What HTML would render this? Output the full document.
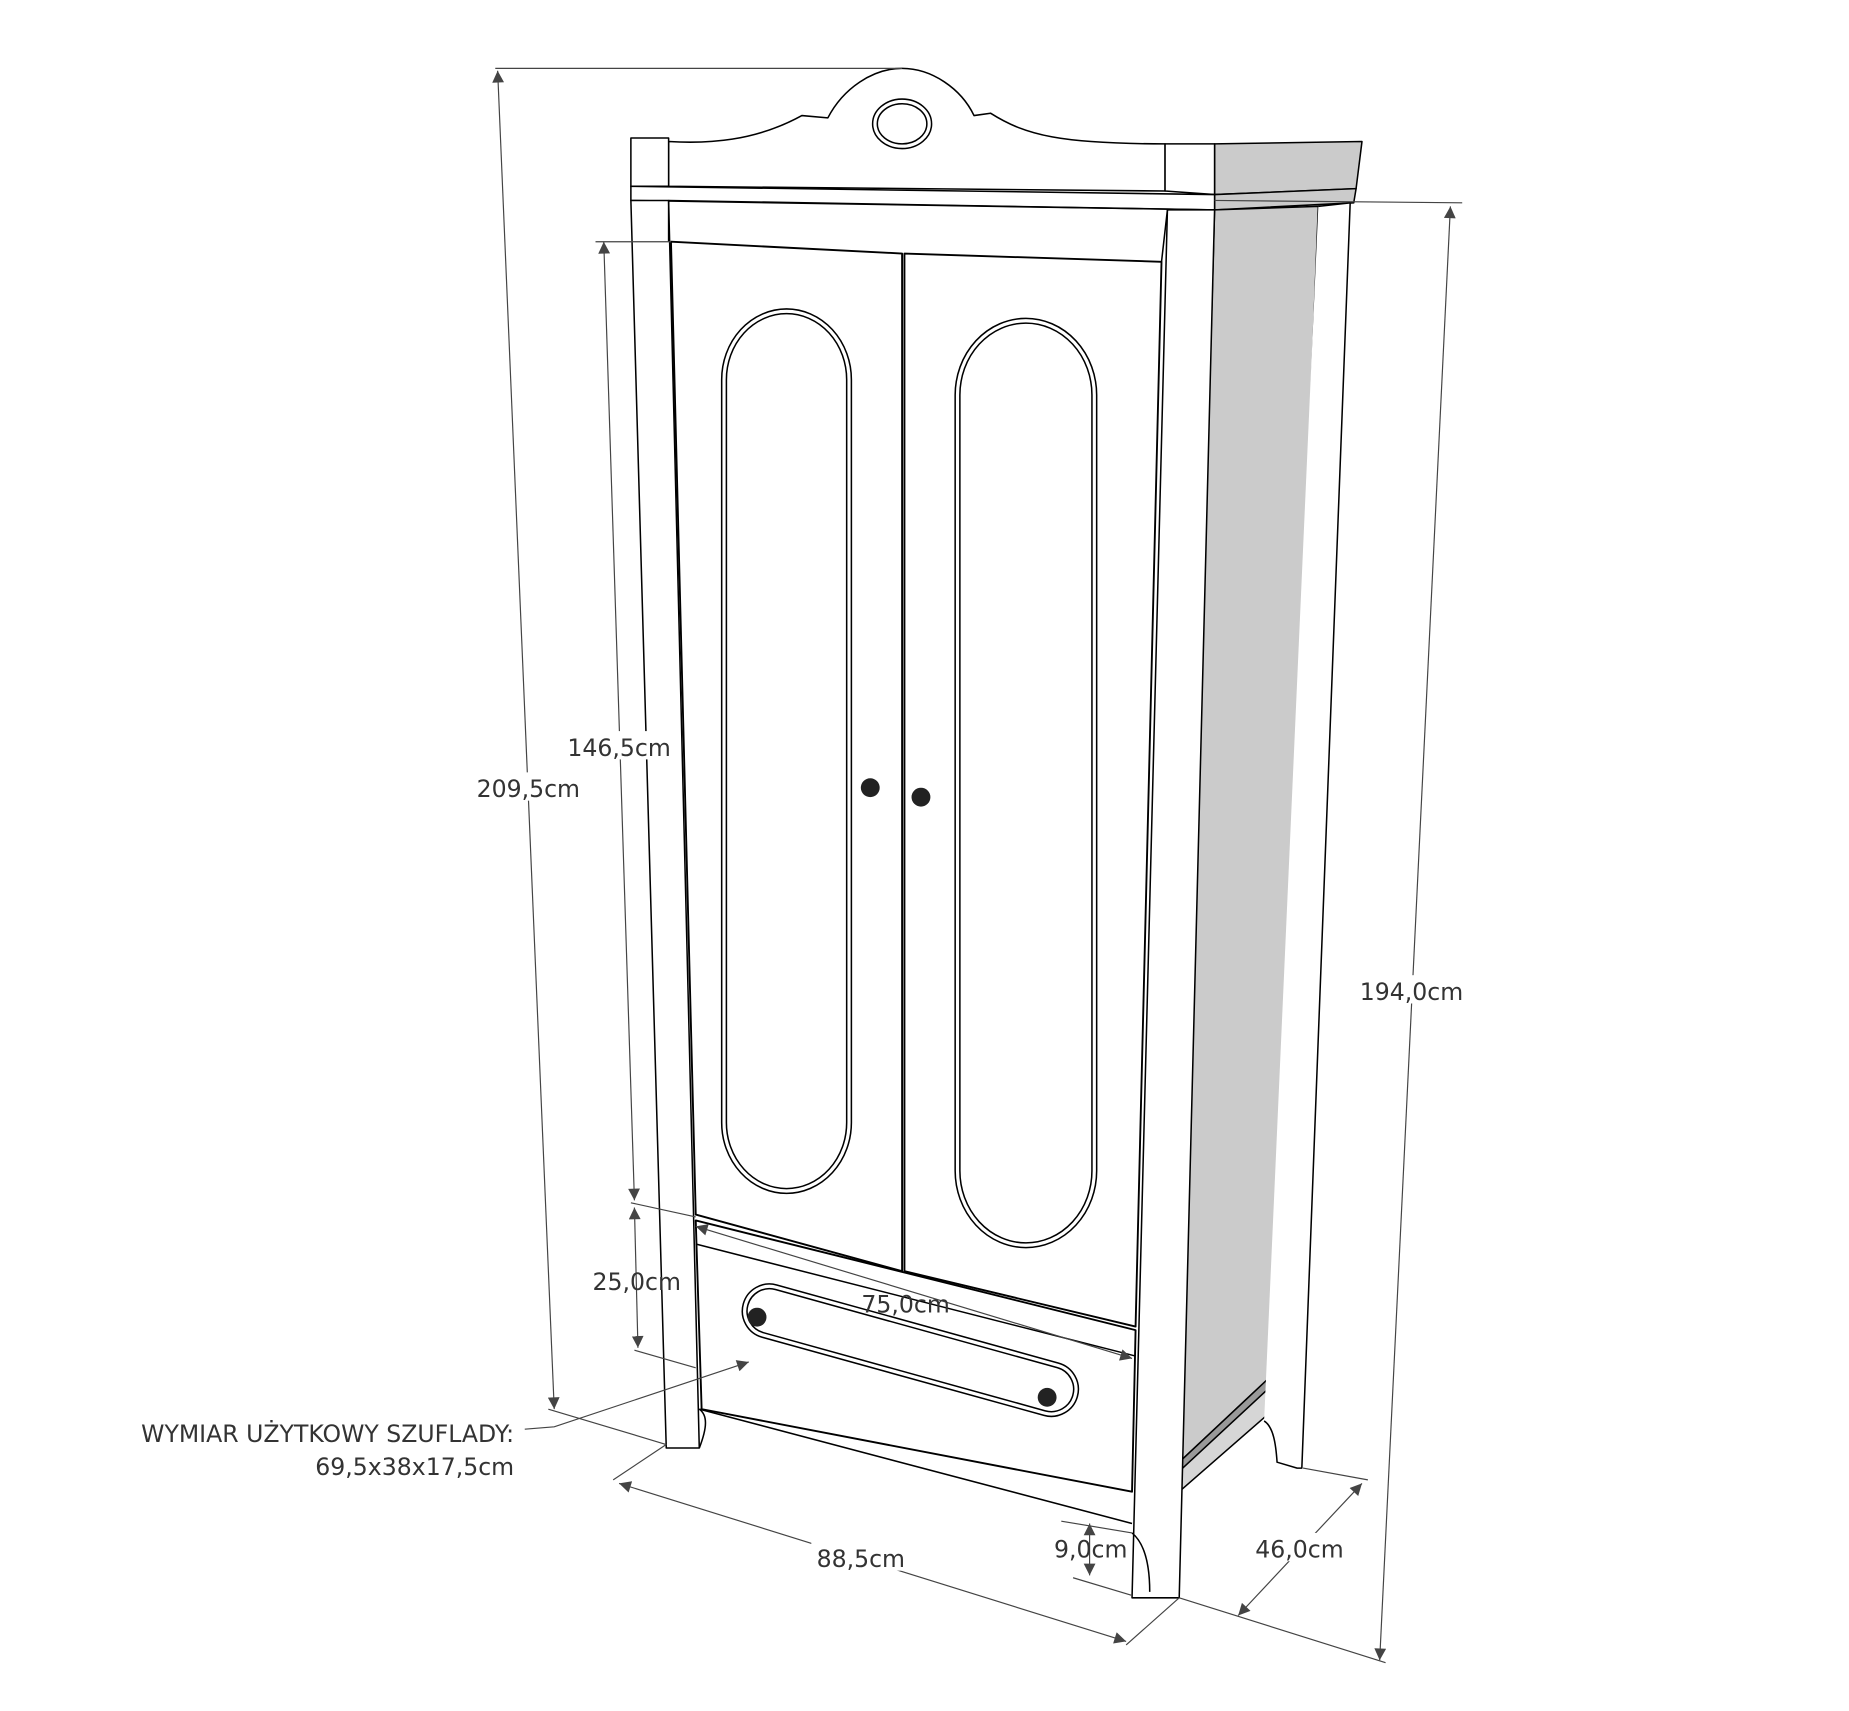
<!DOCTYPE html>
<html><head><meta charset="utf-8"><style>
html,body{margin:0;padding:0;background:#fff;}
svg{display:block;}
text{font-family:"DejaVu Sans","Liberation Sans",sans-serif;font-size:20px;fill:#333;}
</style></head><body>
<svg width="1849" height="1711" viewBox="0 0 1568 1451" xmlns="http://www.w3.org/2000/svg">
<defs>
<marker id="a" viewBox="0 0 10 10" refX="10" refY="5" markerWidth="14" markerHeight="10" markerUnits="userSpaceOnUse" orient="auto-start-reverse">
<path d="M0,0 L10,5 L0,10 z" fill="#444"/></marker>
</defs>
<g fill="none" stroke="#000" stroke-width="1.3" stroke-linejoin="round">
<polygon points="1030,122 1155,120 1150,160 1030,165" fill="#cbcbcb"/>
<polygon points="1030,165 1150,160 1148,172 1030,178" fill="#cbcbcb"/>
<polygon points="1030,178 1118,175 1080,1165 1000,1250" fill="#cbcbcb"/>
<polygon points="1000,1240 1080,1165 1086,1168 1086,1190 1000,1265" fill="#d6d6d6"/>
<polygon points="1000,1240 1080,1165 1086,1168 1003,1245" fill="#999"/>
<path d="M1118,175 L1145,172 L1104,1245 L1100,1245 L1083,1240 C1082,1225 1080,1210 1072,1205" fill="#fff"/>
<path d="M567,120 C600,122 640,120 680,98 L702,100 C715,75 740,58 765,58 C790,58 815,75 826,98 L840,96 C870,115 900,122 988,122 L988,162 L567,158 Z" fill="#fff"/>
<ellipse cx="765" cy="105" rx="25" ry="21"/>
<ellipse cx="765" cy="105" rx="21" ry="17"/>
<polygon points="535,117 567,117 567,158 535,158" fill="#fff"/>
<polygon points="988,122 1030,122 1030,165 988,162" fill="#fff"/>
<polygon points="535,158 1030,165 1030,178 535,170" fill="#fff"/>
<polygon points="535,170 567,170 593,1228 565,1228" fill="#fff"/>
<path d="M567,170 L1030,178" />
<polygon points="990,178 1030,178 1000,1355 960,1355" fill="#fff"/>
<path d="M567,170 L567,205 M990,178 L985,222"/>
<path d="M593,1195 C600,1200 600,1210 593,1228" />
<path d="M960,1300 C972,1310 975,1330 975,1350"/>
<polygon points="569,205 765,215 765,1078 590,1030" fill="#fff" stroke-width="1.6"/>
<polygon points="767,215 985,222 963,1125 767,1078" fill="#fff" stroke-width="1.6"/>
<polygon points="590,1035 963,1128 960,1265 595,1195" fill="#fff" stroke-width="1.6"/>
<path d="M593,1195 L960,1292 M590,1055 L963,1150"/>
<rect x="612" y="262" width="110" height="750" rx="55" ry="60"/>
<rect x="616" y="266" width="102" height="742" rx="51" ry="56"/>
<rect x="810" y="270" width="120" height="788" rx="60" ry="65"/>
<rect x="814" y="274" width="112" height="780" rx="56" ry="61"/>
<g transform="rotate(15.5 772 1145)"><rect x="625" y="1122" width="294" height="46" rx="23"/><rect x="629" y="1126" width="286" height="38" rx="19"/></g>
</g>
<g fill="#222"><circle cx="738" cy="668" r="8"/><circle cx="781" cy="676" r="8"/><circle cx="642" cy="1117" r="8"/><circle cx="888" cy="1185" r="8"/></g>
<g stroke="#444" stroke-width="1" fill="none">
<path d="M420,58 L765,58 M1030,170 L1240,172 M505,205 L569,205 M535,1020 L590,1032 M538,1145 L590,1160 M465,1195 L565,1225 M520,1255 L565,1225 M955,1395 L1000,1355 M1000,1355 L1175,1410 M1105,1245 L1160,1255 M910,1338 L960,1353 M900,1290 L960,1300"/>
<line x1="422" y1="60" x2="470" y2="1195" marker-start="url(#a)" marker-end="url(#a)"/>
<line x1="512" y1="205" x2="538" y2="1018" marker-start="url(#a)" marker-end="url(#a)"/>
<line x1="538" y1="1024" x2="541" y2="1143" marker-start="url(#a)" marker-end="url(#a)"/>
<line x1="1230" y1="175" x2="1170" y2="1408" marker-start="url(#a)" marker-end="url(#a)"/>
<line x1="590" y1="1040" x2="960" y2="1152" marker-start="url(#a)" marker-end="url(#a)"/>
<line x1="525" y1="1258" x2="955" y2="1392" marker-start="url(#a)" marker-end="url(#a)"/>
<line x1="1050" y1="1370" x2="1155" y2="1258" marker-start="url(#a)" marker-end="url(#a)"/>
<line x1="924" y1="1292" x2="924" y2="1336" marker-start="url(#a)" marker-end="url(#a)"/>
<polyline points="445,1212 470,1210 635,1155" marker-end="url(#a)"/>
</g>
<g>
<rect x="405" y="655" width="86" height="24" fill="#fff"/>
<text x="448" y="676" text-anchor="middle">209,5cm</text>
<rect x="482" y="620" width="86" height="24" fill="#fff"/>
<text x="525" y="641" text-anchor="middle">146,5cm</text>
<text x="540" y="1094" text-anchor="middle">25,0cm</text>
<rect x="1153" y="827" width="88" height="24" fill="#fff"/>
<text x="1197" y="848" text-anchor="middle">194,0cm</text>
<text x="768" y="1113" text-anchor="middle">75,0cm</text>
<rect x="688" y="1308" width="84" height="24" fill="#fff"/>
<text x="730" y="1329" text-anchor="middle">88,5cm</text>
<rect x="1062" y="1300" width="80" height="24" fill="#fff"/>
<text x="1102" y="1321" text-anchor="middle">46,0cm</text>
<text x="925" y="1321" text-anchor="middle">9,0cm</text>
<text x="436" y="1223" text-anchor="end">WYMIAR UŻYTKOWY SZUFLADY:</text>
<text x="436" y="1251" text-anchor="end">69,5x38x17,5cm</text>
</g>
</svg>
</body></html>
